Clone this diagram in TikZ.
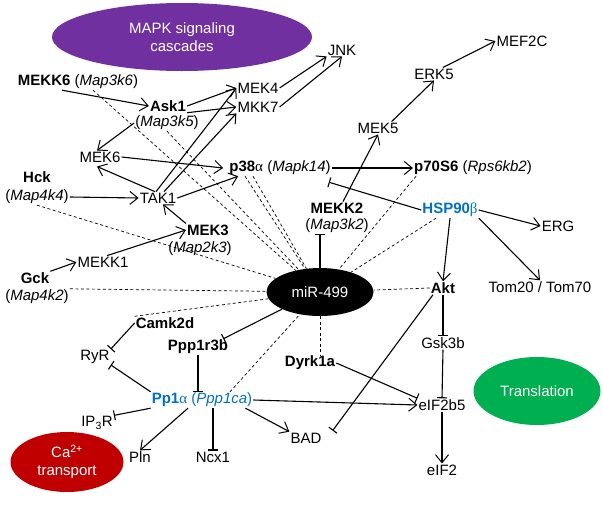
\documentclass[tikz,border=0pt]{standalone}
\usepackage{fontspec}
\setmainfont{Liberation Sans}
\newfontfamily\grk{Liberation Serif}
\usetikzlibrary{shapes.geometric, arrows.meta, calc}

\definecolor{mapkpurple}{HTML}{7030A0}
\definecolor{transgreen}{HTML}{00B050}
\definecolor{cared}{HTML}{C00000}
\definecolor{hspblue}{HTML}{0070C0}

\tikzset{
  act/.style={-{Straight Barb[length=8pt,width=13pt,line width=1pt]}, line width=1.1pt},
  inh/.style={-{Bar[width=10pt]}, line width=1.1pt},
  hit/.style={dashed, line width=0.7pt, dash pattern=on 3pt off 2.5pt},
  blob/.style={ellipse, text=white, align=center},
}

\begin{document}
\begin{tikzpicture}[x=1pt, y=-1pt, every node/.style={inner sep=1pt},
    font=\fontsize{15}{18}\selectfont]
    \useasboundingbox (0,0) rectangle (603,504);

    % coloured blobs
    \node[blob, fill=mapkpurple, minimum width=260pt, minimum height=68pt] (mapk) at (182,37) {MAPK signaling\\cascades};
    \node[blob, fill=transgreen, minimum width=127pt, minimum height=68pt] (transl) at (537,391) {Translation};
    \node[blob, fill=cared, minimum width=113pt, minimum height=60pt] (ca) at (67,462) {Ca\textsuperscript{2+}\\transport};
    \node[blob, fill=black, minimum width=107pt, minimum height=48pt] (mir) at (320,292) {miR-499};

    % MAPK part
    \node (mekk6) at (78,82) {\textbf{MEKK6} (\textit{Map3k6})};
    \node (ask1) at (168,106) {\textbf{Ask1}};
    \node (map3k5) at (167,123) {(\textit{Map3k5})};
    \node (mek4) at (258,88) {MEK4};
    \node (mkk7) at (258,107) {MKK7};
    \node (jnk) at (342,50) {JNK};
    \node (mek6) at (100,157) {MEK6};
    \node (p38) at (280,168) {\textbf{p38}{\grk α} (\textit{Mapk14})};
    \node (hck) at (37,177) {\textbf{Hck}};
    \node (map4k4) at (37,197) {(\textit{Map4k4})};
    \node (tak1) at (158,198) {TAK1};
    \node (mek3) at (208,230) {\textbf{MEK3}};
    \node (map2k3) at (200,249) {(\textit{Map2k3})};
    \node (mekk1) at (103,262) {MEKK1};
    \node (gck) at (35,278) {\textbf{Gck}};
    \node (map4k2) at (37,297) {(\textit{Map4k2})};
    \node (mekk2) at (337,208) {\textbf{MEKK2}};
    \node (map3k2) at (337,226) {(\textit{Map3k2})};
    \node (mek5) at (378,128) {MEK5};
    \node (erk5) at (434,74) {ERK5};
    \node (mef2c) at (522,41) {MEF2C};
    \node (p70) at (473,168) {\textbf{p70S6} (\textit{Rps6kb2})};

    % HSP90 part
    \node[text=hspblue] (hsp) at (450,210) {\textbf{HSP90}{\grk β}};
    \node (erg) at (558,226) {ERG};
    \node (tom) at (540,287) {Tom20 / Tom70};
    \node (akt) at (443,288) {\textbf{Akt}};
    \node (gsk) at (443,343) {Gsk3b};
    \node (eif2b5) at (442,405) {eIF2b5};
    \node (eif2) at (442,470) {eIF2};
    \node (dyrk) at (310,363) {\textbf{Dyrk1a}};
    \node (bad) at (306,438) {BAD};

    % Pp1 part
    \node (camk) at (165,323) {\textbf{Camk2d}};
    \node (ppp1r3b) at (198,347) {\textbf{Ppp1r3b}};
    \node (ryr) at (95,357) {RyR};
    \node[text=hspblue] (pp1) at (202,400) {\textbf{Pp1}{\grk α} (\textit{Ppp1ca})};
    \node (ip3r) at (97,423) {IP\textsubscript{3}R};
    \node (pln) at (140,457) {Pln};
    \node (ncx1) at (213,457) {Ncx1};

    % miR-499 targets
    \draw[hit] ([xshift=15pt]mekk6.south) -- (mir);
    \draw[hit] (map3k5.south) -- (mir);
    \draw[hit] ([xshift=-35pt]p38.south) -- (mir);
    \draw[hit] ([xshift=-27pt]p38.south) -- (mir);
    \draw[hit] (map4k4.south) -- (mir);
    \draw[hit] (map4k2.north east) -- (mir);
    \draw[hit] (camk.north west) -- (mir);
    \draw[hit] ([xshift=28pt]pp1.north) -- (mir);
    \draw[hit] (mir.south) -- (mir.south |- dyrk.north);
    \draw[hit] (akt.west) -- (mir);
    \draw[hit] ([xshift=15pt]hsp.south west) -- (mir);
    \draw[hit] ([xshift=3pt]p70.south west) -- (mir);
    \draw[inh] (mir.north) -- (mir.north |- map3k2.south);
    \draw[inh] (mir.south west) -- ([xshift=-6pt]ppp1r3b.north east);

    % cascades
    \draw[act] ([xshift=-16pt]mekk6.south) -- (ask1.west);
    \draw[act] (ask1.east) -- (mek4.west);
    \draw[act] (ask1.south east) -- (mkk7.west);
    \draw[act] (map3k5.west) -- ([xshift=-3pt]mek6.north);
    \draw[act] (mek6.east) -- ([xshift=-5pt]p38.west);
    \draw[act] ([xshift=-3pt]tak1.north) -- ([xshift=-3pt,yshift=-3pt]mek6.south);
    \draw[act] (map4k4.east) -- (tak1.west);
    \draw[act] (tak1.east) -- ([xshift=10pt]p38.south west);
    \draw[act] ([xshift=-2pt]tak1.north) -- (mek4.west);
    \draw[act] ([xshift=6pt]tak1.north) -- (mkk7.south west);
    \draw[act] (mek3.north west) -- ([xshift=5pt]tak1.south);
    \draw[act] ([xshift=4pt]mekk1.north) -- (mek3.west);
    \draw[act] (gck.north east) -- (mekk1.west);
    \draw[act] (mek4.east) -- (jnk.south west);
    \draw[act] (mkk7.east) -- (jnk.south);
    \draw[act] (p38.east) -- (p70.west);
    \draw[act] ([xshift=6pt]mekk2.north) -- (mek5.south);
    \draw[act] ([xshift=-8pt]mek5.north east) -- (erk5.south);
    \draw[act] ([xshift=-12pt]erk5.north east) -- (mef2c.west);

    % HSP90 / Akt
    \draw[inh] (hsp.west) -- ([xshift=-3pt,yshift=-6pt]p38.south east);
    \draw[act] (hsp.east) -- (erg.west);
    \draw[act] (hsp.south east) -- (tom.north);
    \draw[act] (hsp.south) -- (akt.north);
    \draw[inh] (akt.south) -- (gsk.north);
    \draw[inh] ([xshift=-10pt]akt.south) -- ([xshift=10pt,yshift=1pt]bad.north east);
    \draw[inh] (gsk.south) -- (eif2b5.north);
    \draw[inh] (dyrk.east) -- (eif2b5.north west);
    \draw[act] (eif2b5.south) -- (eif2.north);

    % Pp1
    \draw[inh] (ppp1r3b.south) -- (ppp1r3b.south |- pp1.north);
    \draw[inh] (camk.west) -- (ryr.north east);
    \draw[inh] (pp1.north west) -- (ryr.south east);
    \draw[inh] (pp1.south west) -- (ip3r.north east);
    \draw[inh] (ncx1.north |- pp1.south) -- (ncx1.north);
    \draw[act] ([xshift=-14pt]pp1.south) -- (pln.north);
    \draw[act] ([xshift=-8pt]pp1.south east) -- (bad.north west);
    \draw[act] (pp1.east) -- (eif2b5.west);
\end{tikzpicture}
\end{document}
